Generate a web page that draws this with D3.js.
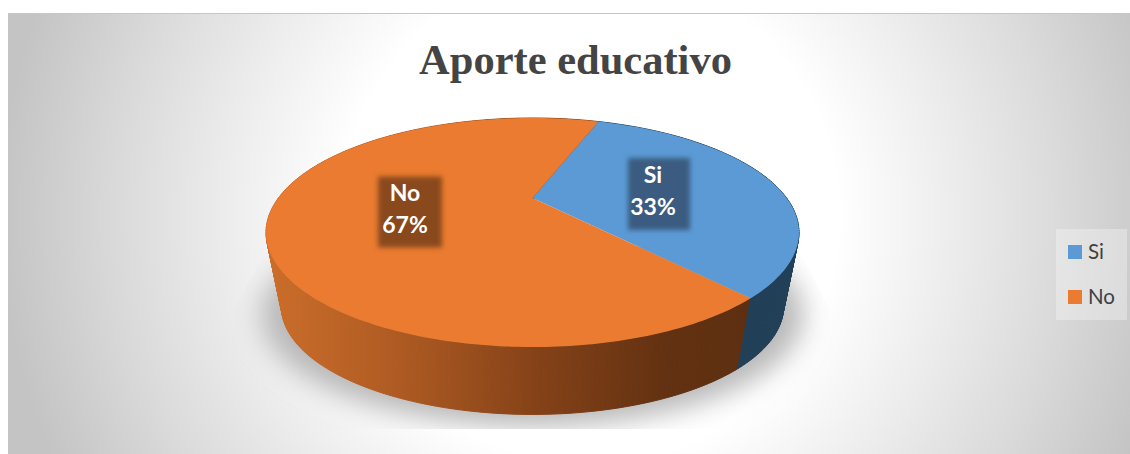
<!DOCTYPE html>
<html>
<head>
<meta charset="utf-8">
<script src="https://cdn.jsdelivr.net/npm/d3@7"></script>
<style>
    html, body { margin: 0; padding: 0; background: #fff; }
    svg { display: block; }
</style>
</head>
<body>
<div id="chart"></div>
<script>
const categories = ["Si", "No"];
const values = [33, 67];
const percentLabels = ["33%", "67%"];
const titleText = "Aporte educativo";

const width = 1130, height = 454;
const topColors = { Si: "#5b9ad5", No: "#ea7b30" };
const boxColors = { Si: "#3a5c80", No: "#8a4a1e" };

// perspective of the pie: apex of the slices, half axes and tilt of the disc
const apex = { x: 532.5, y: 198 };
const disc = { a: 254.1, k: 104.1, p: 0.3013 };
// the lower face is the upper one shrunk towards a far vanishing point
const vanish = { x: 532.5, y: 1510 }, lowerScale = 0.942;
const startDeg = 19.5;

function project(angle) {
    const u = Math.sin(angle), v = -Math.cos(angle);
    const w = 1 - disc.p * v;
    return [apex.x + disc.a * u / w, apex.y + disc.k * v / w];
}
function lower(p) {
    return [vanish.x + (p[0] - vanish.x) * lowerScale, vanish.y + (p[1] - vanish.y) * lowerScale];
}

const svg = d3.select("#chart").append("svg")
    .attr("width", width)
    .attr("height", height);
const defs = svg.append("defs");

// background
const bg = defs.append("radialGradient")
    .attr("id", "bg")
    .attr("gradientUnits", "userSpaceOnUse")
    .attr("cx", 590).attr("cy", 215).attr("r", 590);
bg.selectAll("stop")
    .data([[0.42, "#ffffff"], [0.62, "#ececec"], [0.8, "#dadada"], [1, "#c4c4c4"]])
    .enter().append("stop")
    .attr("offset", (d) => d[0])
    .attr("stop-color", (d) => d[1]);

svg.append("rect")
    .attr("x", 8).attr("y", 14)
    .attr("width", width - 8).attr("height", height - 14)
    .attr("fill", "url(#bg)");
svg.append("line")
    .attr("x1", 8).attr("x2", width)
    .attr("y1", 13.5).attr("y2", 13.5)
    .attr("stroke", "#c6c6c6");

// side wall gradients
function wallGradient(id, stops) {
    const g = defs.append("linearGradient")
        .attr("id", id)
        .attr("gradientUnits", "userSpaceOnUse")
        .attr("x1", 270).attr("x2", 800)
        .attr("y1", 0).attr("y2", 0);
    g.selectAll("stop").data(stops).enter().append("stop")
        .attr("offset", (d) => d[0])
        .attr("stop-color", (d) => d[1]);
}
wallGradient("wallNo", [[0, "#cb6d2a"], [0.25, "#ad5a22"], [0.5, "#854218"], [0.75, "#623111"], [1, "#5a2e10"]]);
wallGradient("wallSi", [[0, "#223f58"], [1, "#223f58"]]);

// shadow under the pie
const blur = defs.append("filter").attr("id", "shadowBlur")
    .attr("x", "-20%").attr("y", "-30%").attr("width", "140%").attr("height", "160%");
blur.append("feGaussianBlur").attr("stdDeviation", 13);
const boxBlur = defs.append("filter").attr("id", "boxBlur")
    .attr("x", "-20%").attr("y", "-20%").attr("width", "140%").attr("height", "140%");
boxBlur.append("feGaussianBlur").attr("stdDeviation", 2.4);

const allAngles = d3.range(0, 361, 2).map((d) => d * Math.PI / 180);
const outline = d3.line();
const lowerRing = allAngles.map((a) => lower(project(a)));

// sharp upper edges of the shadow come from this clip, the rest is blurred
const leftEdge = project(-Math.PI / 2 - 0.42), rightEdge = project(Math.PI / 2 + 0.42);
defs.append("clipPath").attr("id", "shadowClip")
    .append("path")
    .attr("d", outline([
        leftEdge,
        [leftEdge[0] - 60, leftEdge[1] + 112],
        [leftEdge[0] - 60, 429],
        [rightEdge[0] + 60, 429],
        [rightEdge[0] + 60, rightEdge[1] + 116],
        rightEdge,
    ]) + "Z");

svg.append("g")
    .attr("clip-path", "url(#shadowClip)")
    .append("path")
    .attr("d", outline(lowerRing) + "Z")
    .attr("transform", `translate(${apex.x}, 10) scale(1.08, 1.035) translate(${-apex.x}, -12)`)
    .attr("fill", "#b8b8b8")
    .attr("filter", "url(#shadowBlur)");

// slices
const pie = d3.pie()
    .sort(null)
    .startAngle(startDeg * Math.PI / 180)
    .endAngle((startDeg + 360) * Math.PI / 180);
const slices = pie(values).map((d, i) => ({ ...d, name: categories[i], label: percentLabels[i] }));

function arcAngles(d) {
    const steps = Math.ceil((d.endAngle - d.startAngle) / (Math.PI / 180));
    return d3.range(steps + 1).map((i) => d.startAngle + (d.endAngle - d.startAngle) * i / steps);
}

// side walls, one thin quad per degree
const walls = svg.selectAll("g.wall")
    .data(slices.slice().reverse())
    .enter().append("g")
    .attr("class", "wall")
    .attr("fill", (d) => `url(#wall${d.name})`)
    .attr("stroke", (d) => `url(#wall${d.name})`)
    .attr("stroke-width", 1);
walls.selectAll("path")
    .data((d) => d3.pairs(arcAngles(d)))
    .enter().append("path")
    .attr("d", ([a0, a1]) => {
        const p0 = project(a0), p1 = project(a1);
        return outline([p0, p1, lower(p1), lower(p0)]) + "Z";
    });

// top face
svg.selectAll("path.top")
    .data(slices)
    .enter().append("path")
    .attr("class", "top")
    .attr("fill", (d) => topColors[d.name])
    .attr("d", (d) => outline([[apex.x, apex.y], ...arcAngles(d).map(project)]) + "Z");

// data labels
const labelPos = {
    Si: { x: 659, y: 194, h: 72, w: 62, textX: -6 },
    No: { x: 410, y: 212, h: 71, w: 64, textX: -5 },
};
const labels = svg.selectAll("g.label")
    .data(slices)
    .enter().append("g")
    .attr("class", "label")
    .attr("transform", (d) => `translate(${labelPos[d.name].x}, ${labelPos[d.name].y})`);
labels.append("rect")
    .attr("x", (d) => -labelPos[d.name].w / 2)
    .attr("y", (d) => -labelPos[d.name].h / 2)
    .attr("width", (d) => labelPos[d.name].w)
    .attr("height", (d) => labelPos[d.name].h)
    .attr("fill", (d) => boxColors[d.name])
    .attr("filter", "url(#boxBlur)");
labels.selectAll("text")
    .data((d) => [d.name, d.label].map((t) => ({ t, dx: labelPos[d.name].textX })))
    .enter().append("text")
    .attr("text-anchor", "middle")
    .attr("x", (d) => d.dx)
    .attr("y", (d, i) => i === 0 ? -11 : 21)
    .attr("fill", "#fff")
    .attr("font-family", "Lato, sans-serif")
    .attr("font-weight", "bold")
    .attr("font-size", 23)
    .text((d) => d.t);

// title
svg.append("text")
    .attr("x", 575.5).attr("y", 74)
    .attr("text-anchor", "middle")
    .attr("fill", "#444444")
    .attr("font-family", "'Liberation Serif', serif")
    .attr("font-weight", "bold")
    .attr("font-size", 42.5)
    .text(titleText);

// legend
const legend = svg.append("g");
legend.append("rect")
    .attr("x", 1056).attr("y", 229)
    .attr("width", 71).attr("height", 91)
    .attr("fill", "#fff").attr("fill-opacity", 0.3);
const legendY = d3.scalePoint().domain(categories).range([252, 297]);
const items = legend.selectAll("g.item")
    .data(categories)
    .enter().append("g")
    .attr("class", "item")
    .attr("transform", (d) => `translate(1068, ${legendY(d)})`);
items.append("rect")
    .attr("y", -7).attr("width", 14).attr("height", 14)
    .attr("fill", (d) => topColors[d]);
items.append("text")
    .attr("x", 20).attr("y", 7)
    .attr("fill", "#404040")
    .attr("font-family", "Lato, sans-serif")
    .attr("font-size", 20.5)
    .text((d) => d);
</script>
</body>
</html>
